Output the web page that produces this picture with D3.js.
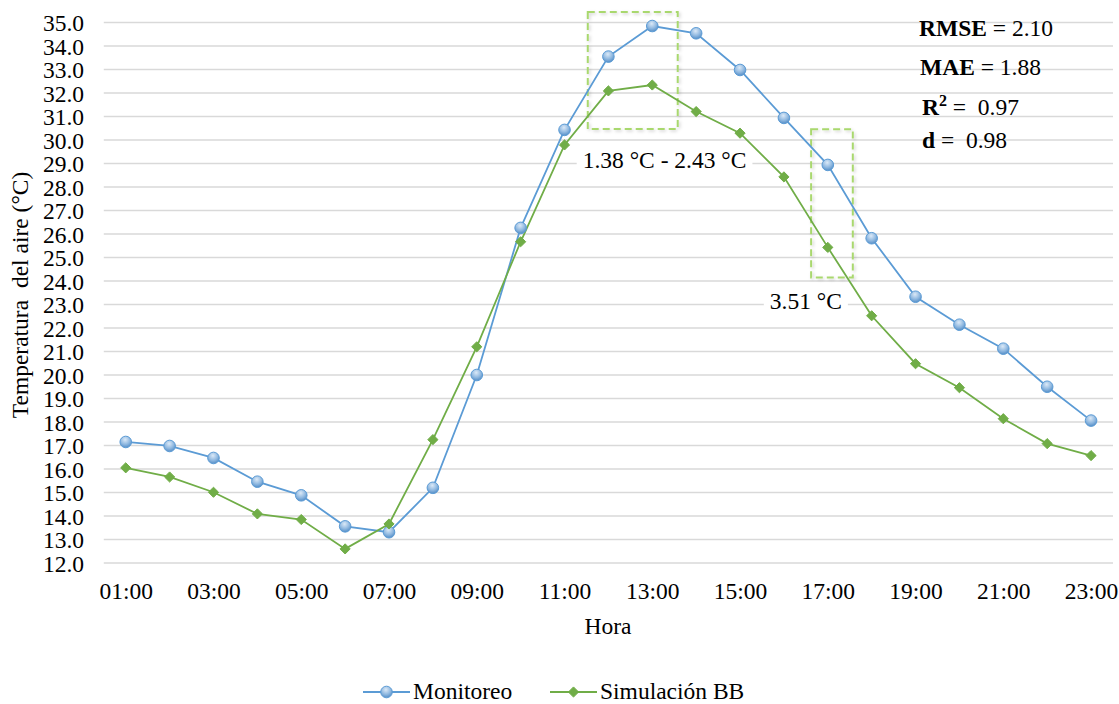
<!DOCTYPE html>
<html>
<head>
<meta charset="utf-8">
<script src="https://cdn.jsdelivr.net/npm/d3@7/dist/d3.min.js"></script>
<style>
  html, body { margin: 0; padding: 0; background: #fff; }
  svg { display: block; }
  svg text { font-family: "Liberation Serif", "Times New Roman", serif; }
</style>
</head>
<body>
<svg id="chart" width="1119" height="704" font-family="Liberation Serif"></svg>
<script>
// ---- data ----
const hours = ["01:00","02:00","03:00","04:00","05:00","06:00","07:00","08:00","09:00","10:00","11:00","12:00",
               "13:00","14:00","15:00","16:00","17:00","18:00","19:00","20:00","21:00","22:00","23:00"];
const monitoreo = [17.15, 16.98, 16.47, 15.46, 14.88, 13.56, 13.31, 15.20, 20.00, 26.26, 30.43, 33.55,
                   34.85, 34.54, 32.98, 30.94, 28.94, 25.82, 23.33, 22.14, 21.12, 19.50, 18.06];
const simulacion = [16.05, 15.66, 15.01, 14.09, 13.85, 12.60, 13.66, 17.25, 21.20, 25.67, 29.79, 32.09,
                    32.34, 31.21, 30.29, 28.43, 25.43, 22.52, 20.48, 19.46, 18.14, 17.08, 16.57];
const yTicks = [12,13,14,15,16,17,18,19,20,21,22,23,24,25,26,27,28,29,30,31,32,33,34,35];
const xTickLabels = ["01:00","03:00","05:00","07:00","09:00","11:00","13:00","15:00","17:00","19:00","21:00","23:00"];
const seriesNames = ["Monitoreo", "Simulación BB"];
// annotation boxes in data units: [hour start, hour end, temp top, temp bottom]
const boxes = [[11.53, 13.58, 35.45, 30.47], [16.62, 17.57, 30.46, 24.15]];
const boxLabels = ["1.38 °C - 2.43 °C", "3.51 °C"];
const boxLabelPos = [[13.28, 28.8], [16.5, 22.8]];
const stats = [["RMSE", " = 2.10"], ["MAE", " = 1.88"], ["R", " =  0.97"], ["d", " =  0.98"]];

// ---- layout ----
const FONT = "Liberation Serif";
const svg = d3.select("#chart");
const plot = { left: 103.8, right: 1113, top: 22.5, bottom: 563 };
const blue = "#5B9BD5", green = "#70AD47";
const FS = 23.5;

const x = d3.scalePoint().domain(hours).range([plot.left, plot.right]).padding(0.5);
const step = x.step();
const xh = h => x("01:00") + (h - 1) * step; // numeric hour -> px
const y = d3.scaleLinear().domain([12, 35]).range([plot.bottom, plot.top]);

const defs = svg.append("defs");
const grad = defs.append("radialGradient").attr("id", "ballGrad")
  .attr("cx", "45%").attr("cy", "30%").attr("r", "75%");
grad.append("stop").attr("offset", "0%").attr("stop-color", "#dbe9f7");
grad.append("stop").attr("offset", "55%").attr("stop-color", "#8fb8e0");
grad.append("stop").attr("offset", "100%").attr("stop-color", "#4a86c2");
const shadow = defs.append("filter").attr("id", "shadow").attr("x", "-20%").attr("y", "-20%").attr("width", "140%").attr("height", "140%");
shadow.append("feDropShadow").attr("dx", 1.5).attr("dy", 1.5).attr("stdDeviation", 1.5)
  .attr("flood-color", "#000").attr("flood-opacity", 0.18);

// gridlines
svg.append("g").selectAll("line").data(yTicks).join("line")
  .attr("x1", plot.left).attr("x2", plot.right)
  .attr("y1", d => y(d)).attr("y2", d => y(d))
  .attr("stroke", "#d9d9d9").attr("stroke-width", 1.3);

// y axis labels
const yAxis = d3.axisLeft(y).tickValues(yTicks).tickFormat(d3.format(".1f")).tickSize(0).tickPadding(0);
const yg = svg.append("g").attr("transform", `translate(84,0)`).call(yAxis);
yg.attr("font-family", FONT);
yg.select(".domain").remove();
yg.selectAll("text").attr("font-family", FONT).attr("font-size", FS).attr("fill", "#000")
  .attr("dy", "0.34em");

// x axis labels
const xAxis = d3.axisBottom(x).tickValues(xTickLabels).tickSize(0).tickPadding(0);
const xg = svg.append("g").attr("transform", `translate(0,599)`).call(xAxis);
xg.attr("font-family", FONT);
xg.select(".domain").remove();
xg.selectAll("text").attr("font-family", FONT).attr("font-size", FS).attr("fill", "#000")
  .attr("dy", 0).attr("y", 0);

// axis titles
svg.append("text").attr("x", 608).attr("y", 634).attr("text-anchor", "middle")
  .attr("font-family", FONT).attr("font-size", FS).text("Hora");
svg.append("text").attr("transform", "translate(28,295) rotate(-90)").attr("text-anchor", "middle")
  .attr("font-family", FONT).attr("font-size", FS).style("white-space", "pre")
  .text("Temperatura  del aire (°C)");

// dashed boxes
svg.append("g").selectAll("rect").data(boxes).join("rect")
  .attr("x", d => xh(d[0])).attr("y", d => y(d[2]))
  .attr("width", d => xh(d[1]) - xh(d[0])).attr("height", d => y(d[3]) - y(d[2]))
  .attr("fill", "none").attr("stroke", "#a9d86e").attr("stroke-width", 2)
  .attr("stroke-dasharray", "7,4").attr("filter", "url(#shadow)");

// lines
const line = d3.line().x((d, i) => x(hours[i])).y(d => y(d));
svg.append("path").datum(monitoreo).attr("d", line).attr("fill", "none").attr("stroke", blue).attr("stroke-width", 1.8);
svg.append("path").datum(simulacion).attr("d", line).attr("fill", "none").attr("stroke", green).attr("stroke-width", 1.8);

// markers
svg.append("g").selectAll("circle").data(monitoreo).join("circle")
  .attr("cx", (d, i) => x(hours[i])).attr("cy", d => y(d)).attr("r", 5.8)
  .attr("fill", "url(#ballGrad)").attr("stroke", blue).attr("stroke-width", 1);
const diamond = d3.symbol().type(d3.symbolDiamond2).size(66);
svg.append("g").selectAll("path").data(simulacion).join("path")
  .attr("transform", (d, i) => `translate(${x(hours[i])},${y(d)})`)
  .attr("d", diamond).attr("fill", green).attr("stroke", green).attr("stroke-width", 1);

// box labels with white background
boxLabels.forEach((t, i) => {
  const g = svg.append("g");
  const txt = g.append("text").attr("x", xh(boxLabelPos[i][0])).attr("y", y(boxLabelPos[i][1]))
    .attr("text-anchor", "middle").attr("font-family", FONT).attr("font-size", FS).text(t);
  const bb = txt.node().getBBox();
  g.insert("rect", "text").attr("x", bb.x - 6).attr("y", bb.y + 2).attr("width", bb.width + 12).attr("height", bb.height - 3)
    .attr("fill", "#fff");
});

// stats block
const statY = [36, 75, 115, 148];
const statX = [919, 920, 922, 922];
stats.forEach((s, i) => {
  const t = svg.append("text").attr("x", statX[i]).attr("y", statY[i]).attr("font-family", FONT).attr("font-size", FS)
    .style("white-space", "pre");
  t.append("tspan").attr("font-weight", "bold").text(s[0]);
  if (s[0] === "R") {
    t.append("tspan").attr("font-weight", "bold").attr("font-size", 16).attr("dy", -9).text("2");
    t.append("tspan").attr("dy", 9).text(s[1]);
  } else {
    t.append("tspan").text(s[1]);
  }
});

// legend
const legend = [
  { name: seriesNames[0], color: blue, x0: 363, type: "circle" },
  { name: seriesNames[1], color: green, x0: 550, type: "diamond" }
];
const ly = 692;
legend.forEach(l => {
  const g = svg.append("g");
  g.append("line").attr("x1", l.x0).attr("x2", l.x0 + 47).attr("y1", ly).attr("y2", ly)
    .attr("stroke", l.color).attr("stroke-width", 1.8);
  if (l.type === "circle") {
    g.append("circle").attr("cx", l.x0 + 23.5).attr("cy", ly).attr("r", 5.8)
      .attr("fill", "url(#ballGrad)").attr("stroke", l.color).attr("stroke-width", 1);
  } else {
    g.append("path").attr("transform", `translate(${l.x0 + 23.5},${ly})`).attr("d", diamond)
      .attr("fill", l.color).attr("stroke", l.color);
  }
  g.append("text").attr("x", l.x0 + 50).attr("y", ly + 7).attr("font-family", FONT).attr("font-size", FS).text(l.name);
});
</script>
</body>
</html>
